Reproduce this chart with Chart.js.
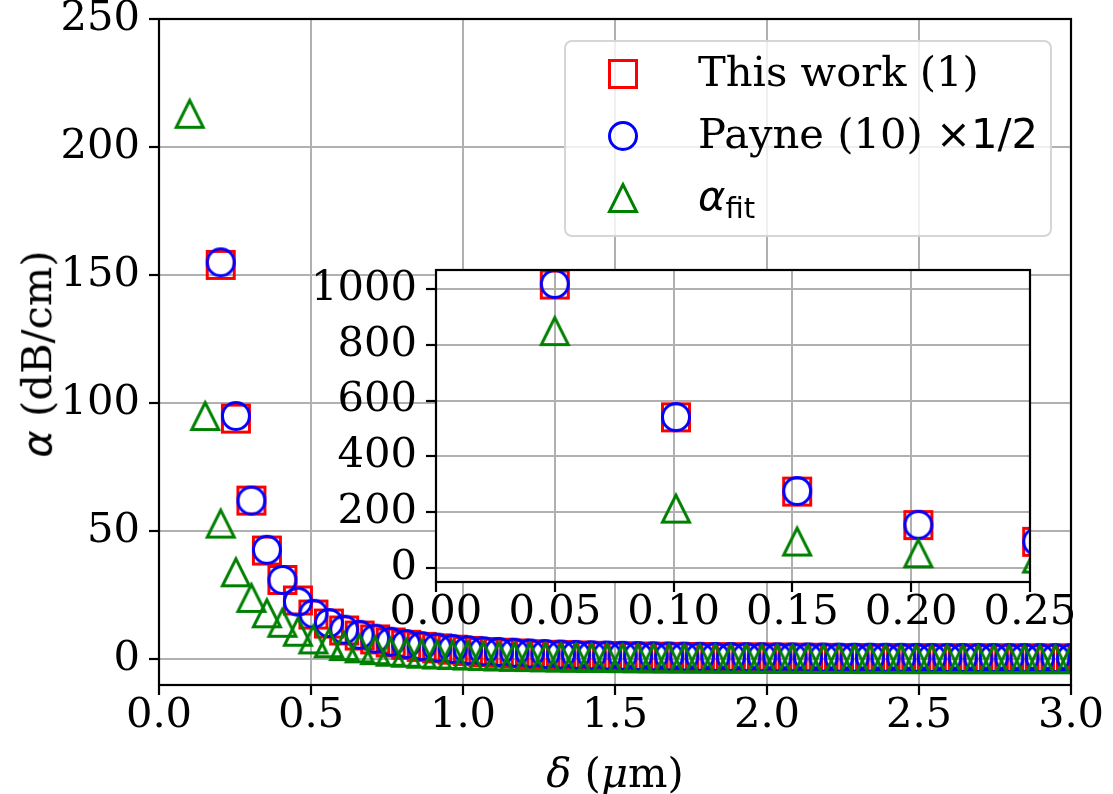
<!DOCTYPE html>
<html>
<head>
<meta charset="utf-8">
<script src="https://cdn.jsdelivr.net/npm/chart.js@4.4.0/dist/chart.umd.min.js"></script>
<style>
  body { margin: 0; background: #fff; }
  #wrap { position: relative; width: 1113px; height: 794px; overflow: hidden; font-family: 'DejaVu Serif'; }
  #mainChart { position: absolute; left: 0; top: 0; }
  #insetChart { position: absolute; left: 290px; top: 250px; }
  .axtitle { position: absolute; font-size: 41.67px; color: #000; white-space: nowrap; line-height: 1; }
  .sans { font-family: 'DejaVu Sans'; }
  .it { font-style: italic; }
  #legend { position: absolute; left: 564px; top: 40px; width: 484px; height: 193px;
            border: 2px solid rgba(204,204,204,0.8); border-radius: 8px; background: rgba(255,255,255,0.8); }
  .lrow { position: absolute; left: 0; height: 50px; width: 480px; }
  .lrow canvas { position: absolute; left: 39px; top: 9px; }
  .lrow span.txt { position: absolute; left: 132px; top: 0; font-size: 41.67px; white-space: nowrap; line-height: 50px; }
  .sub { font-size: 29px; position: relative; top: 8px; }
</style>
</head>
<body>
<div id="wrap">
  <canvas id="mainChart" width="1113" height="794"></canvas>
  <canvas id="insetChart" width="823" height="400"></canvas>
  <div class="axtitle" style="left:615px; top:773px; transform: translate(-50%, -50%);"><span class="it">δ</span> (<span class="it">μ</span>m)</div>
  <div class="axtitle" style="left:37px; top:354px; transform: translate(-50%, -50%) rotate(-90deg);"><span class="sans it">α</span> (dB/cm)</div>
  <div id="legend"></div>
</div>
<script>
// delta (um) sample positions
const delta = [0.050, 0.101, 0.152, 0.203, 0.253, 0.304, 0.355, 0.406, 0.457, 0.508,
  0.559, 0.609, 0.660, 0.711, 0.762, 0.813, 0.864, 0.915, 0.966, 1.016,
  1.067, 1.118, 1.169, 1.220, 1.271, 1.322, 1.372, 1.423, 1.474, 1.525,
  1.576, 1.627, 1.678, 1.728, 1.779, 1.830, 1.881, 1.932, 1.983, 2.034,
  2.084, 2.135, 2.186, 2.237, 2.288, 2.339, 2.390, 2.441, 2.491, 2.542,
  2.593, 2.644, 2.695, 2.746, 2.797, 2.847, 2.898, 2.949, 3.000];

// alpha (dB/cm)
const thisWork = [1016, 540, 274, 154, 94, 62, 42.5, 31, 23, 17.5,
  14, 11.3, 9.3, 7.8, 6.6, 5.7, 4.9, 4.3, 3.8, 3.3,
  2.9, 2.6, 2.3, 2.0, 1.8, 1.65, 1.5, 1.4, 1.3, 1.2,
  1.1, 1.05, 1.0, 0.95, 0.9, 0.85, 0.8, 0.76, 0.72, 0.68,
  0.65, 0.62, 0.59, 0.56, 0.54, 0.52, 0.5, 0.48, 0.46, 0.44,
  0.42, 0.41, 0.4, 0.39, 0.38, 0.37, 0.36, 0.35, 0.34];
const payneHalf = [1018, 541, 276, 155, 95, 62, 42.8, 31, 22.5, 17.8,
  14.2, 11.6, 9.6, 8.1, 6.9, 6.0, 5.2, 4.6, 4.1, 3.6,
  3.2, 2.9, 2.6, 2.3, 2.1, 1.9, 1.75, 1.6, 1.5, 1.4,
  1.3, 1.22, 1.15, 1.08, 1.02, 0.97, 0.92, 0.88, 0.84, 0.8,
  0.77, 0.74, 0.71, 0.68, 0.66, 0.64, 0.62, 0.6, 0.58, 0.56,
  0.55, 0.54, 0.53, 0.52, 0.51, 0.5, 0.49, 0.48, 0.47];
const alphaFit = [849, 213, 95, 53, 34, 24, 18, 14.3, 10.8, 7.8,
  6.3, 5.2, 4.3, 3.6, 3.0, 2.6, 2.2, 1.9, 1.7, 1.5,
  1.3, 1.15, 1.0, 0.9, 0.8, 0.72, 0.65, 0.58, 0.52, 0.47,
  0.43, 0.39, 0.36, 0.33, 0.3, 0.28, 0.26, 0.24, 0.22, 0.2,
  0.19, 0.18, 0.17, 0.16, 0.15, 0.14, 0.13, 0.12, 0.12, 0.11,
  0.11, 0.1, 0.1, 0.09, 0.09, 0.09, 0.08, 0.08, 0.08];

const mainXTicks = [0, 0.5, 1.0, 1.5, 2.0, 2.5, 3.0];
const mainXLabels = ['0.0', '0.5', '1.0', '1.5', '2.0', '2.5', '3.0'];
const mainYTicks = [0, 50, 100, 150, 200, 250];
const insetXTicks = [0, 0.05, 0.10, 0.15, 0.20, 0.25];
const insetXLabels = ['0.00', '0.05', '0.10', '0.15', '0.20', '0.25'];
const insetYTicks = [0, 200, 400, 600, 800, 1000];

const seriesNames = ['This work (1)', 'Payne (10) ×1/2', 'α_fit'];
const seriesColors = ['#ff0000', '#0000ff', '#008000'];
const seriesShapes = ['square', 'circle', 'triangle'];

const FONT_SIZE = 41.67;

// matplotlib-like hollow marker
function drawMarker(ctx, shape, color, cx, cy) {
  const s = 27, h = s / 2;
  ctx.save();
  ctx.strokeStyle = color;
  ctx.lineWidth = 3;
  ctx.lineJoin = 'miter';
  ctx.beginPath();
  if (shape === 'square') {
    ctx.rect(cx - h, cy - h, s, s);
  } else if (shape === 'circle') {
    ctx.arc(cx, cy, h, 0, Math.PI * 2);
  } else {
    ctx.moveTo(cx, cy - h);
    ctx.lineTo(cx - h, cy + h);
    ctx.lineTo(cx + h, cy + h);
    ctx.closePath();
  }
  ctx.stroke();
  ctx.restore();
}
function markerCanvas(shape, color) {
  const c = document.createElement('canvas');
  c.width = 36; c.height = 36;
  drawMarker(c.getContext('2d'), shape, color, 18, 18);
  return c;
}

const values = [thisWork, payneHalf, alphaFit];
function buildDatasets() {
  return values.map((vals, i) => ({
    label: seriesNames[i],
    data: delta.map((x, j) => ({ x: x, y: vals[j] })),
    pointStyle: markerCanvas(seriesShapes[i], seriesColors[i]),
    pointRadius: 15,
    showLine: false,
    clip: 0,
    order: 3 - i
  }));
}

const frame = {
  id: 'frame',
  beforeDraw(chart, args, opts) {
    if (opts.fill) {
      const a = chart.chartArea, ctx = chart.ctx;
      ctx.save();
      ctx.fillStyle = '#fff';
      ctx.fillRect(a.left, a.top, a.right - a.left, a.bottom - a.top);
      ctx.restore();
    }
  },
  afterDatasetsDraw(chart) {
    const a = chart.chartArea, ctx = chart.ctx;
    ctx.save();
    ctx.strokeStyle = '#000';
    ctx.lineWidth = 2.2;
    ctx.strokeRect(a.left, a.top, a.right - a.left, a.bottom - a.top);
    ctx.restore();
  }
};

function axisOpts(min, max, ticks, labels, isX, boxSize) {
  return {
    type: 'linear',
    min: min,
    max: max,
    afterBuildTicks: (scale) => { scale.ticks = ticks.map(v => ({ value: v })); },
    afterFit: (scale) => {
      if (isX) { scale.height = boxSize; scale.paddingLeft = 0; scale.paddingRight = 0; }
      else { scale.width = boxSize; scale.paddingTop = 0; scale.paddingBottom = 0; }
    },
    ticks: {
      color: '#000',
      font: { family: 'DejaVu Serif', size: FONT_SIZE, lineHeight: 1 },
      padding: isX ? 0 : 9,
      maxRotation: 0,
      autoSkip: false,
      callback: (v, i) => labels ? labels[i] : String(v)
    },
    grid: { color: '#b0b0b0', lineWidth: 2, tickColor: '#000', tickLength: 10, tickWidth: 2.2 },
    border: { display: false }
  };
}

Chart.defaults.font.family = 'DejaVu Serif';

new Chart(document.getElementById('mainChart'), {
  type: 'scatter',
  data: { datasets: buildDatasets() },
  options: {
    responsive: false,
    animation: false,
    events: [],
    layout: { padding: { left: 0, top: 19, right: 42, bottom: 0 } },
    plugins: { legend: { display: false }, tooltip: { enabled: false }, frame: { fill: false } },
    scales: {
      x: axisOpts(0, 3, mainXTicks, mainXLabels, true, 109),
      y: axisOpts(-10, 250, mainYTicks, null, false, 159)
    }
  },
  plugins: [frame]
});

new Chart(document.getElementById('insetChart'), {
  type: 'scatter',
  data: { datasets: buildDatasets() },
  options: {
    responsive: false,
    animation: false,
    events: [],
    layout: { padding: { left: 0, top: 20, right: 83, bottom: 0 } },
    plugins: { legend: { display: false }, tooltip: { enabled: false }, frame: { fill: true } },
    scales: {
      x: axisOpts(0, 0.25, insetXTicks, insetXLabels, true, 68),
      y: axisOpts(-50, 1068, insetYTicks, null, false, 146)
    }
  },
  plugins: [frame]
});

// legend
const legend = document.getElementById('legend');
const rowTops = [5, 67, 129];
const legendHtml = ['This work (1)', 'Payne (10) <span class="sans">×1/2</span>',
  '<span class="sans it">α</span><span class="sans sub">fit</span>'];
seriesNames.forEach((name, i) => {
  const row = document.createElement('div');
  row.className = 'lrow';
  row.style.top = rowTops[i] + 'px';
  row.appendChild(markerCanvas(seriesShapes[i], seriesColors[i]));
  const t = document.createElement('span');
  t.className = 'txt';
  t.innerHTML = legendHtml[i];
  row.appendChild(t);
  legend.appendChild(row);
});
</script>
</body>
</html>
